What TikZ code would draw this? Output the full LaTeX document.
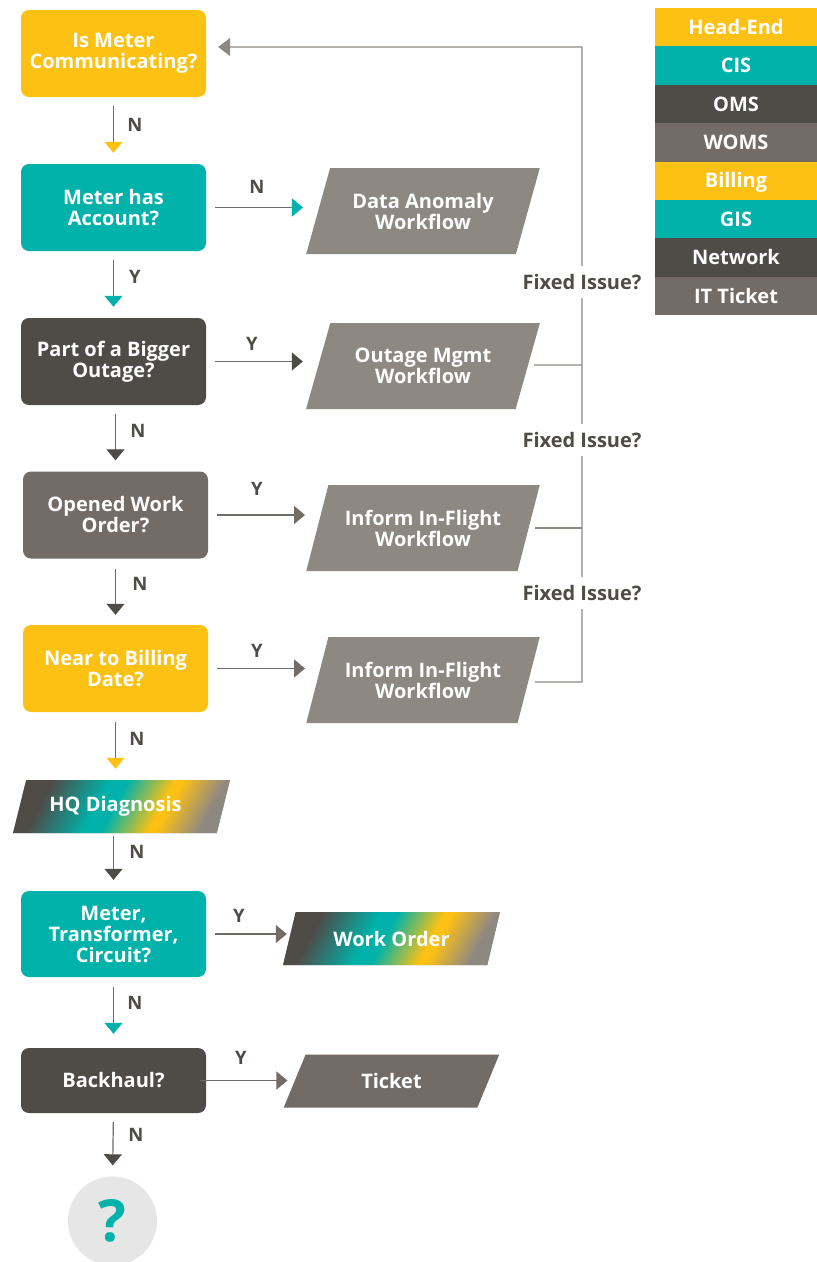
\documentclass[tikz,border=0pt]{standalone}
\usepackage{fontspec}
\setmainfont{Open Sans}
\usetikzlibrary{arrows.meta,shapes.geometric}

\definecolor{cYellow}{HTML}{FDC113}
\definecolor{cTeal}{HTML}{00B2A9}
\definecolor{cDark}{HTML}{4F4B47}
\definecolor{cGray}{HTML}{736B66}
\definecolor{cPara}{HTML}{8E8883}
\definecolor{cLine}{HTML}{6E6A66}
\definecolor{cCircle}{HTML}{E6E6E6}

% diagonal blend used by the hand-off steps
\pgfdeclarehorizontalshading{blendshade}{100bp}{%
  color(0bp)=(cDark); color(27bp)=(cDark); color(43bp)=(cTeal);
  color(48bp)=(cTeal); color(61bp)=(cYellow); color(63bp)=(cYellow);
  color(75bp)=(cPara); color(100bp)=(cPara)}

\begin{document}
\begin{tikzpicture}[x=1pt,y=-1pt,
  every node/.style={font=\fontsize{20}{21}\selectfont\bfseries},
  box/.style={rectangle, rounded corners=8pt, minimum width=185pt,
    minimum height=87pt, inner sep=0pt, text=white, align=center},
  para/.style={trapezium, trapezium left angle=63.43, trapezium right angle=116.57,
    trapezium stretches=true, minimum width=234pt, minimum height=86pt,
    inner sep=0pt, text=white, align=center, fill=cPara},
  slim/.style={para, minimum width=217pt, minimum height=53pt},
  leg/.style={rectangle, minimum width=162pt, minimum height=38.4pt,
    inner sep=0pt, text=white, text height=15pt, text depth=1pt},
  lbl/.style={text=cDark, font=\fontsize{18.5}{18.5}\selectfont\bfseries},
  ar/.style={draw=cLine, line width=1.2pt,
    -{Triangle[width=18pt,length=11pt,color=#1]}},
  fb/.style={draw=cPara, line width=1.2pt},
  fix/.style={text=cDark, fill=white, inner xsep=1pt, inner ysep=8pt},
]
\fill[white] (0,0) rectangle (817,1262);
\useasboundingbox (0,0) rectangle (817,1262);

% decision boxes
\node[box, fill=cYellow] (b1) at (113.5,53.5) {Is Meter\\Communicating?};
\node[box, fill=cTeal]   (b2) at (113.5,207.5) {Meter has\\Account?};
\node[box, fill=cDark]   (b3) at (113.5,361.5) {Part of a Bigger\\Outage?};
\node[box, fill=cGray]   (b4) at (115.5,515) {Opened Work\\Order?};
\node[box, fill=cYellow] (b5) at (115.5,668.5) {Near to Billing\\Date?};
\node[box, fill=cTeal, minimum height=86pt] (b6) at (113.5,934) {Meter,\\Transformer,\\Circuit?};
\node[box, fill=cDark, minimum height=65pt] (b7) at (113.5,1080.5) {Backhaul?};

% workflow steps
\node[para] (p1) at (423,211) {Data Anomaly\\Workflow};
\node[para] (p2) at (423,366) {Outage Mgmt\\Workflow};
\node[para] (p3) at (423,528) {Inform In-Flight\\Workflow};
\node[para] (p4) at (423,680) {Inform In-Flight\\Workflow};
\node[slim, shading=blendshade, shading angle=-28] (hq) at (121.5,806.5) {HQ Diagnosis\hspace*{12pt}};
\node[slim, shading=blendshade, shading angle=-28] (wo) at (391.5,938.5) {Work Order};
\node[slim, fill=cGray] (tk) at (391.5,1081) {Ticket};

% end marker
\node[circle, fill=cCircle, minimum size=89pt, inner sep=0pt, text=cTeal,
  font=\fontsize{58}{58}\selectfont\bfseries] (q) at (112.5,1221) {?};

% downward flow
\draw[ar=cYellow, shorten <=9pt, shorten >=11pt] (b1.south) -- (b2.north);
\draw[ar=cTeal,   shorten <=9pt, shorten >=11pt] (b2.south) -- (b3.north);
\draw[ar=cDark,   shorten <=9pt, shorten >=11pt] (b4.north |- b3.south) -- (b4.north);
\draw[ar=cDark,   shorten <=10pt, shorten >=10pt] (b4.south) -- (b5.north);
\draw[ar=cYellow, shorten <=10pt, shorten >=11pt] (b5.south) -- (b5.south |- hq.north);
\draw[ar=cDark,   shorten <=3pt, shorten >=11pt] (b6.north |- hq.south) -- (b6.north);
\draw[ar=cTeal,   shorten <=10pt, shorten >=14pt] (b6.south) -- (b7.north);
\draw[ar=cDark,   shorten <=9pt, shorten >=11pt] (b7.south) -- (q.north);

\node[lbl] at (135,125) {N};
\node[lbl] at (135,277) {Y};
\node[lbl] at (138,431) {N};
\node[lbl] at (140,584) {N};
\node[lbl] at (137,739) {N};
\node[lbl] at (137,852) {N};
\node[lbl] at (135,1003) {N};
\node[lbl] at (136,1135) {N};

% sideways hand-offs
\draw[ar=cTeal, shorten <=9pt, shorten >=3pt] (b2.east) -- (b2.east -| p1.bottom left corner);
\draw[ar=cDark, shorten <=9pt, shorten >=3pt] (b3.east) -- (b3.east -| p2.bottom left corner);
\draw[ar=cGray, shorten <=9pt, shorten >=1pt] (b4.east) -- (b4.east -| p3.bottom left corner);
\draw[ar=cGray, shorten <=9pt, shorten >=1pt] (b5.east) -- (b5.east -| p4.bottom left corner);
\draw[ar=cGray, shorten <=9pt, shorten >=-4pt] (b6.east) -- (b6.east -| wo.bottom left corner);
\draw[ar=cGray, shorten <=-6pt, shorten >=-4pt] (b7.east) -- (b7.east -| tk.bottom left corner);

\node[lbl] at (257,187) {N};
\node[lbl] at (252,344) {Y};
\node[lbl] at (257,489) {Y};
\node[lbl] at (257,651) {Y};
\node[lbl] at (239,916) {Y};
\node[lbl] at (241,1058) {Y};

% feedback loop back to the first check
\coordinate (fbtop) at (582,47);
\coordinate (fbend) at (582,682);
\draw[fb, -{Triangle[width=18pt,length=12pt,color=cPara]}, shorten >=12pt]
  (p4.east) ++(6,2) -- (fbend) -- (fbtop) -- (fbtop -| b1.east);
\draw[fb] (p2.east) ++(6,-1) -- (fbtop |- 0,365);
\draw[fb] (p3.east) ++(6,0) -- (fbtop |- p3.east);
\node[fix] (f1) at (582,282) {Fixed Issue?};
\node[fix] (f2) at (582,440) {Fixed Issue?};
\node[fix] (f3) at (582,593) {Fixed Issue?};

% system legend
\node[leg, fill=cYellow] (l1) at (736,27.2)  {Head-End};
\node[leg, fill=cTeal]   (l2) at (736,65.6)  {CIS};
\node[leg, fill=cDark]   (l3) at (736,104)   {OMS};
\node[leg, fill=cGray]   (l4) at (736,142.4) {WOMS};
\node[leg, fill=cYellow] (l5) at (736,180.8) {Billing};
\node[leg, fill=cTeal]   (l6) at (736,219.2) {GIS};
\node[leg, fill=cDark]   (l7) at (736,257.6) {Network};
\node[leg, fill=cGray]   (l8) at (736,296)   {IT Ticket};
\end{tikzpicture}
\end{document}
